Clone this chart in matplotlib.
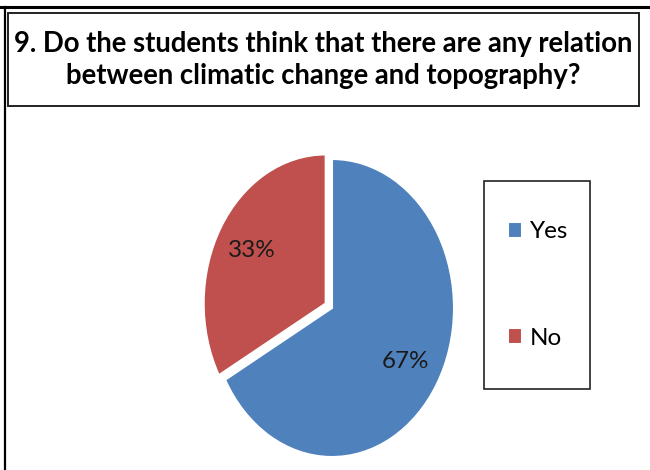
import matplotlib as mpl
mpl.use('Agg')
import matplotlib.pyplot as plt
from matplotlib.patches import Rectangle
from matplotlib.lines import Line2D

# Data
labels = ['Yes', 'No']
shares = [67, 33]
colors = ['#4F81BD', '#C0504D']
title = ('9. Do the students think that there are any relation\n'
         'between climatic change and topography?')

FONT = ['Lato', 'DejaVu Sans']
W, H = 650, 470

fig = plt.figure(figsize=(6.5, 4.7), dpi=100)
fig.patch.set_facecolor('white')


def fx(px):
    return px / W


def fy(py):
    # pixel row from top -> figure fraction
    return 1 - py / H


# Outer frame: thick top edge and left edge
fig.add_artist(Line2D([0, 1], [fy(7), fy(7)], color='black', lw=2.2,
                      transform=fig.transFigure))
fig.add_artist(Line2D([fx(5), fx(5)], [0, fy(7)], color='black', lw=1.6,
                      transform=fig.transFigure))

# Title box
fig.add_artist(Rectangle((fx(8), fy(106)), fx(631), (106 - 13) / H,
                         transform=fig.transFigure, fill=False,
                         edgecolor='#222222', lw=1.4))
fig.text(fx(323), fy(60), title, ha='center', va='center', fontsize=19.8,
         fontweight='bold', family=FONT, linespacing=1.3, color='black')

# Pie axes, stretched vertically like the original
rx, ry = 122, 149
cx, cy = 332, 308
lim = 1.15
ax = fig.add_axes([fx(cx - rx * lim), fy(cy + ry * lim),
                   2 * rx * lim / W, 2 * ry * lim / H])
wedges, texts, autotexts = ax.pie(
    shares, colors=colors, startangle=90, counterclock=False,
    explode=[0, 0.06], autopct='%.0f%%', pctdistance=0.7,
    wedgeprops=dict(edgecolor='white', linewidth=1.5),
    textprops=dict(fontsize=17.5, family=FONT, color='#1a1a1a'))
ax.set_aspect('auto')
ax.set_xlim(-lim, lim)
ax.set_ylim(-lim, lim)
ax.axis('off')

# Legend box
fig.add_artist(Rectangle((fx(484), fy(389)), fx(106), (389 - 181) / H,
                         transform=fig.transFigure, fill=False,
                         edgecolor='#222222', lw=1.2))
fig.legend(wedges, labels, loc='center', bbox_to_anchor=(fx(538), fy(285)),
           frameon=False, prop=dict(family=FONT, size=17.5),
           handlelength=0.6, handleheight=0.6, handletextpad=0.3,
           labelspacing=3.5)

fig.savefig('out.png', dpi=100)
